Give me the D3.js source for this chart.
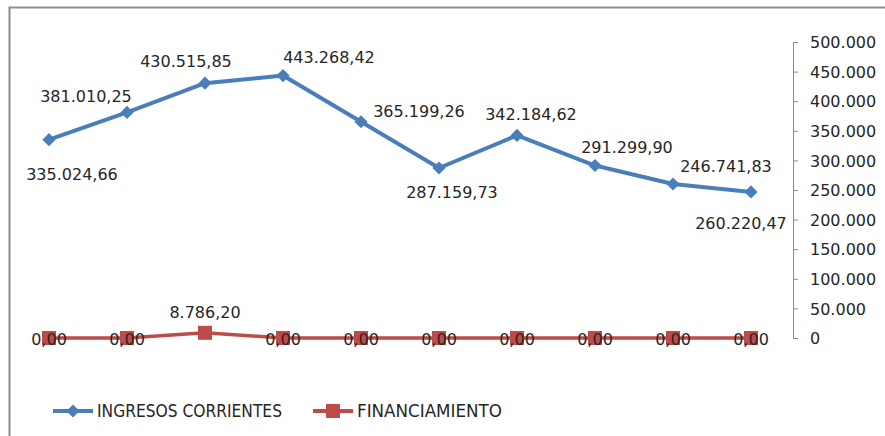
<!DOCTYPE html>
<html>
<head>
<meta charset="utf-8">
<script src="https://cdn.jsdelivr.net/npm/d3@7"></script>
<style>
  body { margin: 0; background: #fff; }
  svg text { font-family: "DejaVu Sans", sans-serif; fill: #262626; }
</style>
</head>
<body>
<svg id="chart" width="885" height="436"></svg>
<script>
// periods (no category labels shown on the chart)
var periods = [1, 2, 3, 4, 5, 6, 7, 8, 9, 10]

var ingresos = [335024.66, 381010.25, 430515.85, 443268.42, 365199.26, 287159.73, 342184.62, 291299.90, 260220.47, 246741.83]
// labels as printed in the picture (last two appear swapped)
var ingresosLabels = ["335.024,66", "381.010,25", "430.515,85", "443.268,42", "365.199,26", "287.159,73", "342.184,62", "291.299,90", "246.741,83", "260.220,47"]

var financiamiento = [0, 0, 8786.20, 0, 0, 0, 0, 0, 0, 0]
var financiamientoLabels = ["0,00", "0,00", "8.786,20", "0,00", "0,00", "0,00", "0,00", "0,00", "0,00", "0,00"]

var yTicks = [0, 50000, 100000, 150000, 200000, 250000, 300000, 350000, 400000, 450000, 500000]

var seriesNames = ["INGRESOS CORRIENTES", "FINANCIAMIENTO"]

// label placement (offset from point: dx to text centre, dy to baseline)
var blueLabelOffsets = [[23, 40], [-41, -10], [-19, -16], [46, -13], [58, -5], [13, 30], [14, -15], [32, -13], [53, -12], [-10, 37]]

var blue = "#4a7ebb", red = "#be4b48"

var svg = d3.select("#chart")

// frame (only top and left edges visible)
svg.append("path")
  .attr("d", "M9.5,436 V7.5 H885")
  .attr("fill", "none")
  .attr("stroke", "#8c8c8c")
  .attr("stroke-width", 2)

var x = d3.scalePoint()
  .domain(periods)
  .range([10, 790])
  .padding(0.5)

var y = d3.scaleLinear()
  .domain([0, 500000])
  .range([338, 42])

var fmt = d3.formatLocale({decimal: ",", thousands: ".", grouping: [3], currency: ["", ""]}).format(",.0f")

var yAxis = svg.append("g")
  .attr("transform", "translate(793,0)")
  .call(d3.axisRight(y).tickValues(yTicks).tickFormat(fmt).tickSize(5).tickPadding(12))

yAxis.select(".domain").attr("stroke", "#8c8c8c").attr("d", "M0.5," + y(0) + "V" + y(500000))
yAxis.selectAll(".tick line").attr("stroke", "#8c8c8c")
yAxis.selectAll(".tick text")
  .style("font-family", "DejaVu Sans")
  .style("font-size", "16px")
  .attr("fill", "#262626")
  .attr("dy", "0.35em")

var line = d3.line()
  .x(function(d, i){ return x(periods[i]) })
  .y(function(d){ return y(d) })

// FINANCIAMIENTO
svg.append("path")
  .datum(financiamiento)
  .attr("d", line)
  .attr("fill", "none")
  .attr("stroke", red)
  .attr("stroke-width", 3.5)

svg.selectAll(".fmark")
  .data(financiamiento)
  .enter()
  .append("rect")
  .attr("x", function(d, i){ return x(periods[i]) - 7 })
  .attr("y", function(d){ return y(d) - 7 })
  .attr("width", 14)
  .attr("height", 14)
  .attr("fill", red)

svg.selectAll(".flabel")
  .data(financiamiento)
  .enter()
  .append("text")
  .attr("x", function(d, i){ return x(periods[i]) })
  .attr("y", function(d){ return d > 0 ? y(d) - 15 : y(d) + 7 })
  .attr("text-anchor", "middle")
  .style("font-size", "16px")
  .text(function(d, i){ return financiamientoLabels[i] })

// INGRESOS CORRIENTES
svg.append("path")
  .datum(ingresos)
  .attr("d", line)
  .attr("fill", "none")
  .attr("stroke", blue)
  .attr("stroke-width", 4)
  .attr("stroke-linejoin", "round")

var diamond = d3.symbol().type(d3.symbolDiamond2).size(110)

svg.selectAll(".imark")
  .data(ingresos)
  .enter()
  .append("path")
  .attr("d", diamond)
  .attr("transform", function(d, i){ return "translate(" + x(periods[i]) + "," + y(d) + ")" })
  .attr("fill", blue)

svg.selectAll(".ilabel")
  .data(ingresos)
  .enter()
  .append("text")
  .attr("x", function(d, i){ return x(periods[i]) + blueLabelOffsets[i][0] })
  .attr("y", function(d, i){ return y(d) + blueLabelOffsets[i][1] })
  .attr("text-anchor", "middle")
  .style("font-size", "16px")
  .text(function(d, i){ return ingresosLabels[i] })

// legend
var legend = svg.append("g").attr("transform", "translate(0,411)")
var legendItems = [
  {name: seriesNames[0], color: blue, x: 53, textLen: 185, marker: "diamond"},
  {name: seriesNames[1], color: red, x: 313, textLen: 145, marker: "square"}
]
legendItems.forEach(function(it){
  legend.append("line")
    .attr("x1", it.x).attr("x2", it.x + 40)
    .attr("stroke", it.color).attr("stroke-width", 4)
  if (it.marker == "diamond") {
    legend.append("path")
      .attr("d", diamond)
      .attr("transform", "translate(" + (it.x + 20) + ",0)")
      .attr("fill", it.color)
  } else {
    legend.append("rect")
      .attr("x", it.x + 13).attr("y", -7)
      .attr("width", 14).attr("height", 14)
      .attr("fill", it.color)
  }
  legend.append("text")
    .attr("x", it.x + 44)
    .attr("y", 6)
    .style("font-family", "'DejaVu Sans Condensed', 'DejaVu Sans'")
    .style("font-size", "17px")
    .attr("textLength", it.textLen)
    .attr("lengthAdjust", "spacingAndGlyphs")
    .text(it.name)
})
</script>
</body>
</html>
